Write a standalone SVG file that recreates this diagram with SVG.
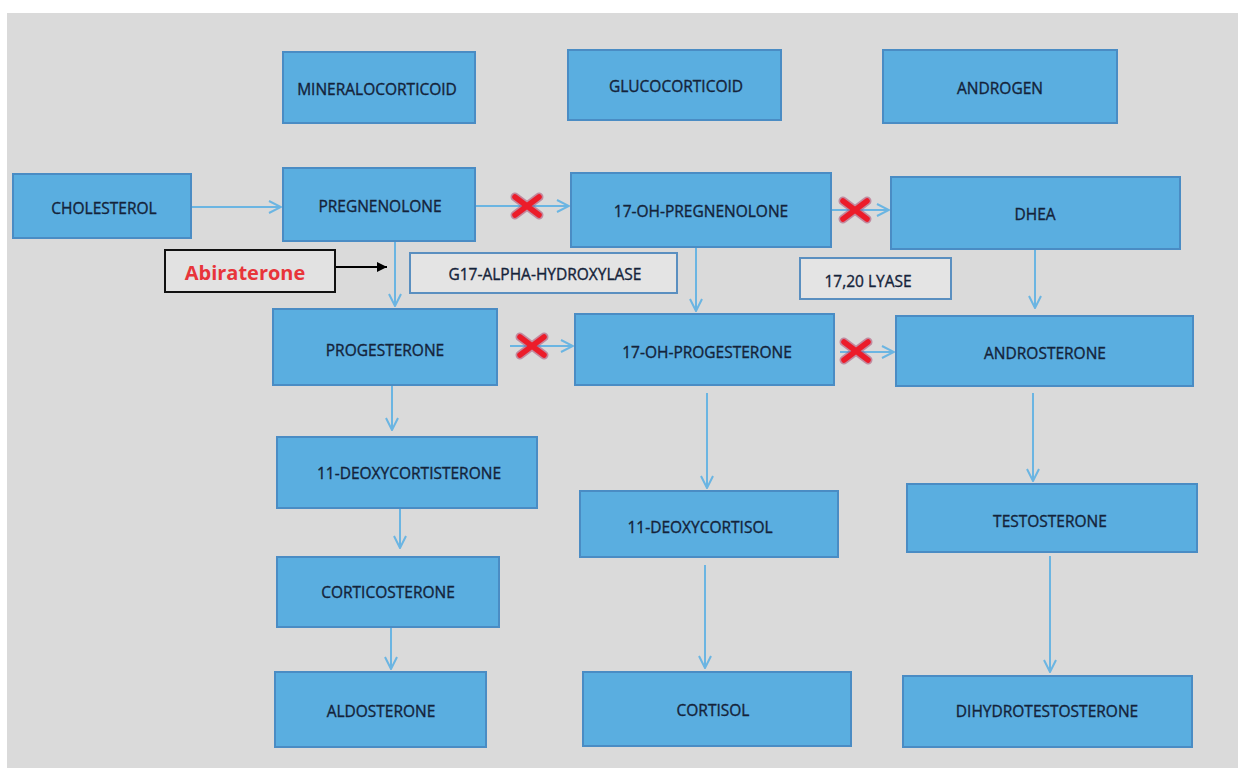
<svg xmlns="http://www.w3.org/2000/svg" width="1238" height="768" viewBox="0 0 1238 768">
<defs>
<style>
.bx{fill:#5aaee0;stroke:#4a8cc4;stroke-width:2}
.t{font-family:"Open Sans","Liberation Sans",sans-serif;font-size:15.5px;fill:#14233a;stroke:#14233a;stroke-width:0.35;text-anchor:middle;dominant-baseline:central}
.lb{fill:#e4e4e4;stroke:#5a8fc0;stroke-width:2}
.c{stroke:#6bb5e2;stroke-width:2;fill:none}
.x1{stroke:#b04a70;stroke-width:9;stroke-linecap:round;opacity:0.55}
.x2{stroke:#ec1c2a;stroke-width:5.5;stroke-linecap:round}
</style>
<marker id="ah" viewBox="0 0 14 14" refX="13" refY="7" markerWidth="14" markerHeight="14" markerUnits="userSpaceOnUse" orient="auto">
<path d="M1,1 L13,7 L1,13" fill="none" stroke="#6bb5e2" stroke-width="2"/>
</marker>
<marker id="bh" viewBox="0 0 10 10" refX="10" refY="5" markerWidth="10" markerHeight="10" markerUnits="userSpaceOnUse" orient="auto">
<path d="M0,0 L10,5 L0,10 Z" fill="#000"/>
</marker>
</defs>
<rect x="0" y="0" width="1238" height="768" fill="#ffffff"/>
<rect x="7" y="13" width="1231" height="755" fill="#dadada"/>

<g id="connectors">
<line class="c" x1="191" y1="207" x2="281" y2="207" marker-end="url(#ah)"/>
<line class="c" x1="476" y1="206" x2="569" y2="206" marker-end="url(#ah)"/>
<line class="c" x1="832" y1="210" x2="889" y2="210" marker-end="url(#ah)"/>
<line class="c" x1="395" y1="242" x2="395" y2="306" marker-end="url(#ah)"/>
<line class="c" x1="696" y1="248" x2="696" y2="311" marker-end="url(#ah)"/>
<line class="c" x1="1035" y1="250" x2="1035" y2="308" marker-end="url(#ah)"/>
<line class="c" x1="510" y1="346" x2="573" y2="346" marker-end="url(#ah)"/>
<line class="c" x1="840" y1="352" x2="894" y2="352" marker-end="url(#ah)"/>
<line class="c" x1="392" y1="386" x2="392" y2="430" marker-end="url(#ah)"/>
<line class="c" x1="707" y1="393" x2="707" y2="488" marker-end="url(#ah)"/>
<line class="c" x1="1033" y1="393" x2="1033" y2="481" marker-end="url(#ah)"/>
<line class="c" x1="400" y1="509" x2="400" y2="548" marker-end="url(#ah)"/>
<line class="c" x1="705" y1="565" x2="705" y2="668" marker-end="url(#ah)"/>
<line class="c" x1="1050" y1="556" x2="1050" y2="672" marker-end="url(#ah)"/>
<line class="c" x1="391" y1="628" x2="391" y2="669" marker-end="url(#ah)"/>
<line x1="335" y1="267" x2="387" y2="267" stroke="#000" stroke-width="2" marker-end="url(#bh)"/>
<g id="blocks">
<g transform="translate(527,206)"><path class="x1" d="M-12,-9 L12,9 M-12,9 L12,-9"/><path class="x2" d="M-12,-9 L12,9 M-12,9 L12,-9"/></g>
<g transform="translate(855,210)"><path class="x1" d="M-12,-9 L12,9 M-12,9 L12,-9"/><path class="x2" d="M-12,-9 L12,9 M-12,9 L12,-9"/></g>
<g transform="translate(532,346)"><path class="x1" d="M-12,-9 L12,9 M-12,9 L12,-9"/><path class="x2" d="M-12,-9 L12,9 M-12,9 L12,-9"/></g>
<g transform="translate(856,351)"><path class="x1" d="M-12,-9 L12,9 M-12,9 L12,-9"/><path class="x2" d="M-12,-9 L12,9 M-12,9 L12,-9"/></g>
</g>
</g>

<g id="mineralocorticoid"><rect class="bx" x="283" y="52" width="192" height="71"/><text class="t" x="377" y="89">MINERALOCORTICOID</text></g>
<g id="glucocorticoid"><rect class="bx" x="568" y="50" width="213" height="70"/><text class="t" x="676" y="86">GLUCOCORTICOID</text></g>
<g id="androgen"><rect class="bx" x="883" y="50" width="234" height="73"/><text class="t" x="1000" y="88">ANDROGEN</text></g>
<g id="cholesterol"><rect class="bx" x="13" y="174" width="178" height="64"/><text class="t" x="104" y="208">CHOLESTEROL</text></g>
<g id="pregnenolone"><rect class="bx" x="283" y="168" width="192" height="73"/><text class="t" x="380" y="206">PREGNENOLONE</text></g>
<g id="oh-pregnenolone"><rect class="bx" x="571" y="173" width="260" height="74"/><text class="t" x="701" y="211">17-OH-PREGNENOLONE</text></g>
<g id="dhea"><rect class="bx" x="891" y="177" width="289" height="72"/><text class="t" x="1035" y="214">DHEA</text></g>
<g id="abiraterone"><rect x="165" y="250" width="170" height="42" fill="#e2e2e2" stroke="#111" stroke-width="2"/><text x="245" y="272" font-family="'Open Sans','Liberation Sans',sans-serif" font-size="20px" font-weight="bold" fill="#e8353a" text-anchor="middle" dominant-baseline="central">Abiraterone</text></g>
<g id="hydroxylase"><rect class="lb" x="410" y="253" width="267" height="40"/><text class="t" x="545" y="274">G17-ALPHA-HYDROXYLASE</text></g>
<g id="lyase"><rect class="lb" x="800" y="258" width="151" height="41"/><text class="t" x="868" y="281">17,20 LYASE</text></g>
<g id="progesterone"><rect class="bx" x="273" y="309" width="224" height="76"/><text class="t" x="385" y="350">PROGESTERONE</text></g>
<g id="oh-progesterone"><rect class="bx" x="575" y="314" width="259" height="71"/><text class="t" x="707" y="352">17-OH-PROGESTERONE</text></g>
<g id="androsterone"><rect class="bx" x="896" y="316" width="297" height="70"/><text class="t" x="1045" y="353">ANDROSTERONE</text></g>
<g id="deoxycorticosterone"><rect class="bx" x="277" y="437" width="260" height="71"/><text class="t" x="409" y="473">11-DEOXYCORTISTERONE</text></g>
<g id="deoxycortisol"><rect class="bx" x="580" y="491" width="258" height="66"/><text class="t" x="700" y="527">11-DEOXYCORTISOL</text></g>
<g id="testosterone"><rect class="bx" x="907" y="484" width="290" height="68"/><text class="t" x="1050" y="521">TESTOSTERONE</text></g>
<g id="corticosterone"><rect class="bx" x="277" y="557" width="222" height="70"/><text class="t" x="388" y="592">CORTICOSTERONE</text></g>
<g id="aldosterone"><rect class="bx" x="275" y="672" width="211" height="75"/><text class="t" x="381" y="711">ALDOSTERONE</text></g>
<g id="cortisol"><rect class="bx" x="583" y="672" width="268" height="74"/><text class="t" x="713" y="710">CORTISOL</text></g>
<g id="dihydrotestosterone"><rect class="bx" x="903" y="676" width="289" height="71"/><text class="t" x="1047" y="711">DIHYDROTESTOSTERONE</text></g>
</svg>
